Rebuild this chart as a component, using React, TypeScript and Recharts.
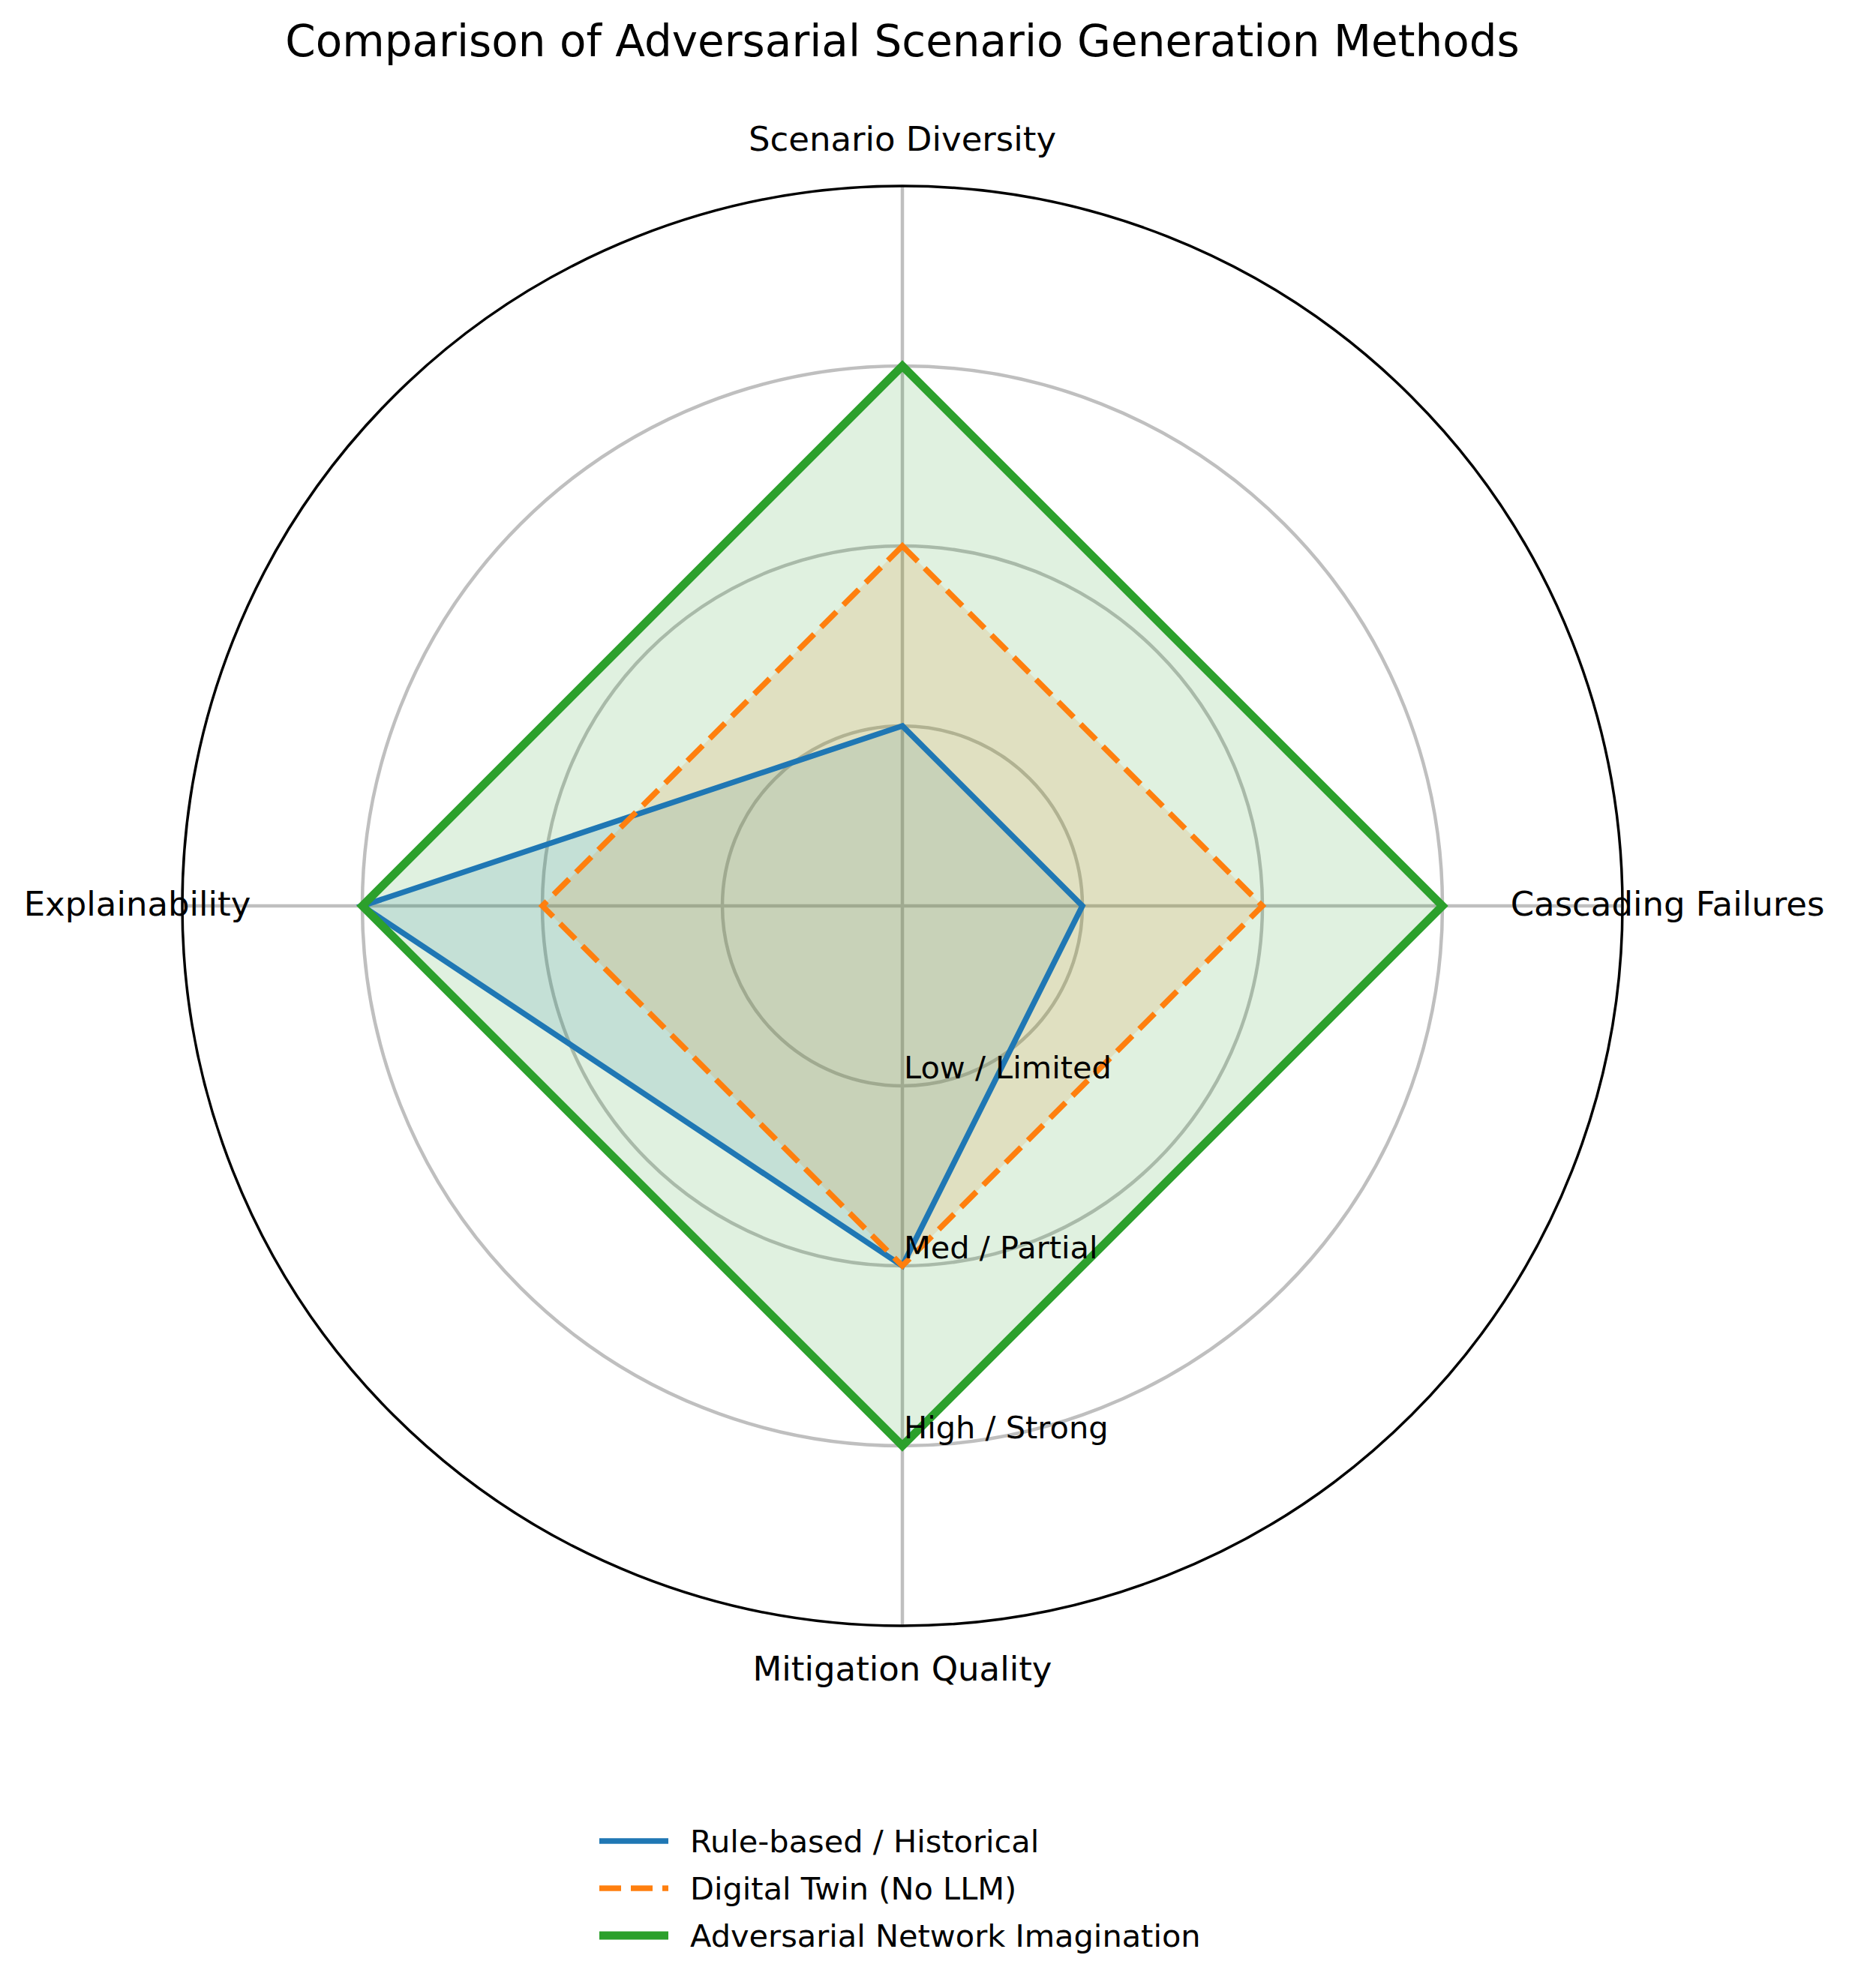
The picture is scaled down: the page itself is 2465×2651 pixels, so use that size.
import { PolarAngleAxis, PolarGrid, PolarRadiusAxis, Radar, RadarChart } from "recharts";

const categories = ["Scenario Diversity", "Cascading Failures", "Mitigation Quality", "Explainability"];
const ruleBased = [1, 1, 2, 3];
const digitalTwin = [2, 2, 2, 2];
const adversarial = [3, 3, 3, 3];
const levelTicks = [1, 2, 3];
const levelLabels = ["Low / Limited", "Med / Partial", "High / Strong"];

const series = [
  { key: "rule", name: "Rule-based / Historical", color: "#1f77b4", width: 7.5, dash: undefined },
  { key: "twin", name: "Digital Twin (No LLM)", color: "#ff7f0e", width: 7.5, dash: "29 13" },
  { key: "adv", name: "Adversarial Network Imagination", color: "#2ca02c", width: 11, dash: undefined },
];

const data = categories.map((axis, i) => ({
  axis,
  rule: ruleBased[i],
  twin: digitalTwin[i],
  adv: adversarial[i],
}));

const W = 2465;
const H = 2651;
const CX = 1203;
const CY = 1208;
const R = 960;
const font = "'DejaVu Sans', sans-serif";

function AngleTick(props: any) {
  return (
    <text x={props.x} y={props.y} dy={13} textAnchor="middle" fontSize={45} fontFamily={font} fill="#000">
      {props.payload.value}
    </text>
  );
}

function LevelTick(props: any) {
  const idx = levelTicks.indexOf(props.payload.value);
  if (idx < 0) return <g />;
  // label sits just above its ring, to the right of the bottom spoke
  return (
    <text x={props.x + 2} y={props.y - 10} textAnchor="start" fontSize={41.5} fontFamily={font} fill="#000">
      {levelLabels[idx]}
    </text>
  );
}

export default function App() {
  return (
    <div style={{ position: "absolute", left: 0, top: 0, width: W, height: H, background: "#fff" }}>
      <RadarChart width={W} height={H} data={data} cx={CX} cy={CY} outerRadius={R} margin={{ top: 0, right: 0, bottom: 0, left: 0 }}>
        <PolarGrid gridType="circle" stroke="#bfbfbf" strokeWidth={4.5} />
        <PolarRadiusAxis angle={-90} domain={[0, 4]} ticks={levelTicks} tickCount={5} axisLine={false} tick={LevelTick} />
        {/* fills first, outlines on top of all fills */}
        {series.map((s) => (
          <Radar
            key={s.key + "-fill"}
            name={s.name}
            dataKey={s.key}
            stroke="none"
            fill={s.color}
            fillOpacity={0.15}
            dot={false}
            isAnimationActive={false}
          />
        ))}
        {series.map((s) => (
          <Radar
            key={s.key + "-line"}
            name={s.name}
            dataKey={s.key}
            stroke={s.color}
            strokeWidth={s.width}
            strokeDasharray={s.dash}
            fill="none"
            fillOpacity={0}
            dot={false}
            isAnimationActive={false}
          />
        ))}
        <PolarAngleAxis
          dataKey="axis"
          axisLineType="circle"
          axisLine={{ stroke: "#000", strokeWidth: 3.5 }}
          tickLine={false}
          tickSize={60}
          tick={AngleTick}
        />
      </RadarChart>
      <svg width={W} height={H} style={{ position: "absolute", left: 0, top: 0, pointerEvents: "none" }}>
        <text x={CX} y={75} textAnchor="middle" fontSize={58} fontFamily={font} fill="#000">
          Comparison of Adversarial Scenario Generation Methods
        </text>
        {series.map((s, i) => {
          const cy = 2455 + i * 63;
          return (
            <g key={s.key}>
              <line x1={799} x2={891} y1={cy} y2={cy} stroke={s.color} strokeWidth={s.width} strokeDasharray={s.dash} />
              <text x={920} y={cy + 15} fontSize={41.5} fontFamily={font} fill="#000">
                {s.name}
              </text>
            </g>
          );
        })}
      </svg>
    </div>
  );
}
